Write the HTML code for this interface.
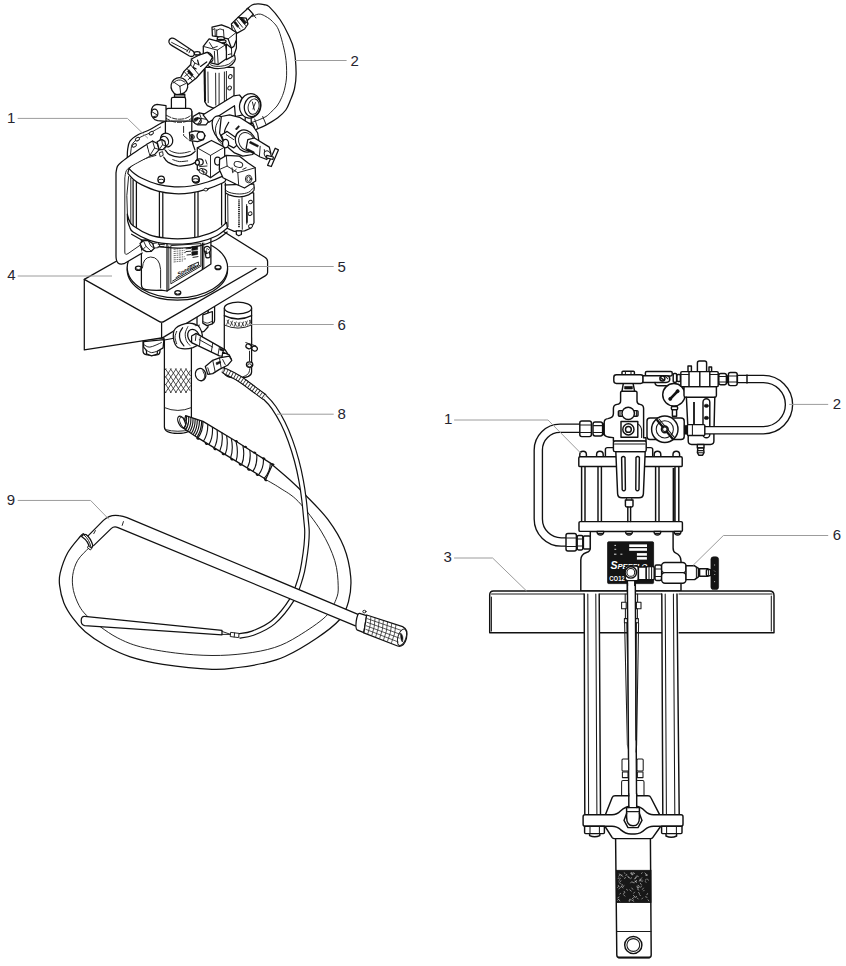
<!DOCTYPE html>
<html lang="en">
<head>
<meta charset="utf-8">
<title>Parts diagram</title>
<style>
html,body{margin:0;padding:0;background:#fff;}
body{width:846px;height:966px;overflow:hidden;font-family:"Liberation Sans",sans-serif;}
svg{display:block;}
svg text{font-family:"Liberation Sans",sans-serif;font-size:15px;fill:#25252f;stroke:none;}
.m{fill:none;stroke:#111;stroke-width:1.45;stroke-linecap:round;stroke-linejoin:round;}
.t{fill:none;stroke:#1a1a1a;stroke-width:1.05;stroke-linecap:round;stroke-linejoin:round;}
.w{fill:#fff;stroke:#111;stroke-width:1.45;stroke-linecap:round;stroke-linejoin:round;}
.wt{fill:#fff;stroke:#1a1a1a;stroke-width:1.05;stroke-linecap:round;stroke-linejoin:round;}
.k{fill:#111;stroke:#111;stroke-width:0.6;stroke-linejoin:round;}
.ld{fill:none;stroke:#9c9c9c;stroke-width:1;}
.wf{fill:#fff;stroke:none;}
.L .m,.L .w{stroke-width:1.25;}
.L .t,.L .wt{stroke-width:0.95;}
</style>
</head>
<body>
<svg width="846" height="966" viewBox="0 0 846 966">
<rect x="0" y="0" width="846" height="966" fill="#ffffff"/>
<g class="L">
<!-- LEFT FIGURE : mounting plate, lower pump tube, canister -->
<g id="left-plate">
<!-- lower pump tube (behind plate) -->
<path class="w" d="M164.4 340 V427 Q164.6 433.4 177.8 433.4 Q191.2 433.4 191.4 427 V335 Z"/>
<path class="t" d="M164.4 407.6 Q177.8 413.4 191.4 407.6"/>
<path class="t" d="M165.4 429.6 Q177.8 433 190.4 429.6"/>
<!-- pump outlet housing under plate -->
<path class="w" d="M143 340 V351 Q143 354 146 354.6 Q152 356 158 354.6 Q160 354 160 351 V345 H164 V338 Z"/>
<path class="t" d="M146 350.6 Q151.5 352.6 157 350.6"/>
<path class="w" d="M208 300 V321 Q208 323.6 211 323.6 Q214.6 323.6 214.6 320 V300 Z"/>
<path class="w" d="M197 312 V330 Q200 333 204 331.4 L208 327 V310 Z"/>
<!-- plate top face -->
<path class="w" d="M84.3 279.4 L197.6 215.2 L264.5 257 Q267.6 258.9 267.6 261.5 V272.6 Q267.6 274.4 265.6 275.6 L164.5 336.6 Q161.6 338.2 161.6 337.8 L84.3 349.8 Z"/>
<path class="m" d="M84.3 279.4 L159 321.4 Q161.6 322.9 164.2 321.4 L256 268.4"/>
<path class="m" d="M161.6 323 V337.6"/>
</g>

</g>
<g class="L">
<!-- LEFT FIGURE : hoses and suction tube -->
<g id="left-hoses">
<path class="wf" d="M272.0 464.5C275.0 467.1 284.5 475.0 290.0 480.0C295.5 485.0 298.9 488.1 305.2 494.7C311.5 501.3 321.6 511.0 328.0 519.7C334.4 528.4 340.1 537.5 343.9 547.0C347.7 556.5 349.9 567.6 350.7 576.7C351.5 585.8 350.4 594.5 348.5 601.7C346.6 608.9 344.6 613.9 339.3 620.0C334.0 626.1 325.7 632.1 316.6 638.2C307.6 644.3 294.1 652.3 285.0 656.5C275.9 660.7 269.8 661.7 262.0 663.5C254.2 665.3 246.3 666.5 238.0 667.5C229.7 668.5 224.5 669.8 212.0 669.3C199.5 668.8 176.5 666.4 162.9 664.3C149.3 662.2 139.9 659.9 130.3 656.8C120.7 653.7 112.8 649.7 105.3 645.5C97.8 641.3 90.6 636.3 85.2 631.7C79.8 627.1 76.2 622.7 72.7 617.9C69.2 613.1 66.1 608.3 63.9 602.9C61.7 597.5 60.2 590.4 59.6 585.4C59.0 580.4 58.9 578.2 60.2 572.8C61.6 567.4 64.4 558.8 67.7 552.8C71.0 546.8 77.6 539.7 80.2 536.5C82.8 533.3 82.9 534.1 83.4 533.6L92.4 544.6C91.8 545.1 91.5 545.2 89.0 547.8C86.5 550.4 80.4 555.7 77.7 560.3C75.0 564.9 73.4 570.3 72.7 575.3C72.0 580.3 72.4 585.4 73.4 590.4C74.5 595.4 76.8 601.2 79.0 605.4C81.2 609.6 83.0 611.8 86.5 615.4C90.0 619.0 95.1 622.9 100.3 626.7C105.5 630.5 111.1 634.6 117.8 638.0C124.5 641.4 130.8 644.3 140.4 646.8C150.0 649.3 163.5 651.5 175.4 653.0C187.3 654.5 200.4 655.4 212.0 655.5C223.6 655.6 234.6 654.8 245.0 653.5C255.4 652.2 265.7 650.4 274.6 647.5C283.5 644.6 289.8 641.2 298.3 636.0C306.8 630.8 319.4 622.6 325.7 616.5C332.0 610.4 333.9 604.6 336.0 599.5C338.1 594.4 338.4 592.3 338.2 585.8C338.0 579.3 337.6 569.8 334.8 560.7C332.0 551.6 327.2 541.0 321.1 531.1C315.0 521.2 305.2 508.7 298.3 501.5C291.4 494.3 285.7 491.8 280.0 488.0C274.3 484.2 266.7 480.2 264.0 478.6Z"/>
<path class="m" d="M272.0 464.5C275.0 467.1 284.5 475.0 290.0 480.0C295.5 485.0 298.9 488.1 305.2 494.7C311.5 501.3 321.6 511.0 328.0 519.7C334.4 528.4 340.1 537.5 343.9 547.0C347.7 556.5 349.9 567.6 350.7 576.7C351.5 585.8 350.4 594.5 348.5 601.7C346.6 608.9 344.6 613.9 339.3 620.0C334.0 626.1 325.7 632.1 316.6 638.2C307.6 644.3 294.1 652.3 285.0 656.5C275.9 660.7 269.8 661.7 262.0 663.5C254.2 665.3 246.3 666.5 238.0 667.5C229.7 668.5 224.5 669.8 212.0 669.3C199.5 668.8 176.5 666.4 162.9 664.3C149.3 662.2 139.9 659.9 130.3 656.8C120.7 653.7 112.8 649.7 105.3 645.5C97.8 641.3 90.6 636.3 85.2 631.7C79.8 627.1 76.2 622.7 72.7 617.9C69.2 613.1 66.1 608.3 63.9 602.9C61.7 597.5 60.2 590.4 59.6 585.4C59.0 580.4 58.9 578.2 60.2 572.8C61.6 567.4 64.4 558.8 67.7 552.8C71.0 546.8 77.6 539.7 80.2 536.5C82.8 533.3 82.9 534.1 83.4 533.6"/>
<path class="t" d="M264.0 478.6C266.7 480.2 274.3 484.2 280.0 488.0C285.7 491.8 291.4 494.3 298.3 501.5C305.2 508.7 315.0 521.2 321.1 531.1C327.2 541.0 332.0 551.6 334.8 560.7C337.6 569.8 338.0 579.3 338.2 585.8C338.4 592.3 338.1 594.4 336.0 599.5C333.9 604.6 332.0 610.4 325.7 616.5C319.4 622.6 306.8 630.8 298.3 636.0C289.8 641.2 283.5 644.6 274.6 647.5C265.7 650.4 255.4 652.2 245.0 653.5C234.6 654.8 223.6 655.6 212.0 655.5C200.4 655.4 187.3 654.5 175.4 653.0C163.5 651.5 150.0 649.3 140.4 646.8C130.8 644.3 124.5 641.4 117.8 638.0C111.1 634.6 105.5 630.5 100.3 626.7C95.1 622.9 90.0 619.0 86.5 615.4C83.0 611.8 81.2 609.6 79.0 605.4C76.8 601.2 74.5 595.4 73.4 590.4C72.4 585.4 72.0 580.3 72.7 575.3C73.4 570.3 75.0 564.9 77.7 560.3C80.4 555.7 86.5 550.4 89.0 547.8C91.5 545.2 91.8 545.1 92.4 544.6"/>
<path class="w" d="M84.6 616.4 L222 630.4 L222 634.8 L84.6 625.6 Q81.2 625 81.2 620.8 Q81.2 616.2 84.6 616.4 Z"/>
<path d="M222.7 369.7C225.2 371.0 233.1 374.9 237.7 377.7C242.3 380.5 245.7 383.1 250.3 386.5C254.9 389.9 261.4 394.2 265.3 397.8C269.2 401.4 271.1 403.6 274.0 407.8C276.9 412.0 280.1 417.4 282.8 422.8C285.5 428.2 288.0 434.1 290.3 440.4C292.6 446.7 294.8 453.7 296.6 460.4C298.4 467.1 299.9 473.8 301.1 480.5C302.4 487.2 303.3 493.8 304.1 500.5C304.9 507.2 305.6 515.4 306.1 520.6C306.6 525.9 307.0 527.9 307.0 532.0C307.0 536.1 306.8 540.0 306.3 545.0C305.8 550.0 304.9 556.5 304.0 562.0C303.1 567.5 302.6 571.5 300.6 577.8C298.6 584.0 296.6 592.1 292.0 599.5C287.4 606.9 279.8 616.6 273.3 622.2C266.8 627.8 258.5 630.9 252.8 633.2C247.1 635.5 241.4 635.5 239.1 635.9" fill="none" stroke="#111" stroke-width="5.7"/>
<path d="M222.7 369.7C225.2 371.0 233.1 374.9 237.7 377.7C242.3 380.5 245.7 383.1 250.3 386.5C254.9 389.9 261.4 394.2 265.3 397.8C269.2 401.4 271.1 403.6 274.0 407.8C276.9 412.0 280.1 417.4 282.8 422.8C285.5 428.2 288.0 434.1 290.3 440.4C292.6 446.7 294.8 453.7 296.6 460.4C298.4 467.1 299.9 473.8 301.1 480.5C302.4 487.2 303.3 493.8 304.1 500.5C304.9 507.2 305.6 515.4 306.1 520.6C306.6 525.9 307.0 527.9 307.0 532.0C307.0 536.1 306.8 540.0 306.3 545.0C305.8 550.0 304.9 556.5 304.0 562.0C303.1 567.5 302.6 571.5 300.6 577.8C298.6 584.0 296.6 592.1 292.0 599.5C287.4 606.9 279.8 616.6 273.3 622.2C266.8 627.8 258.5 630.9 252.8 633.2C247.1 635.5 241.4 635.5 239.1 635.9" fill="none" stroke="#fff" stroke-width="3.3"/>
<path class="wt" d="M231 632.4 L239 633.4 L238.6 637.6 L230.6 636.6 Z"/>
<path class="t" d="M234.6 633 L234.2 637 M222 631.4 L230.6 634.4 L222 634.4"/>
<path class="wf" d="M83.6 535 L103 521 Q110 514 119 515.6 Q123 516.2 127 517.6 L358.6 614.6 L355.4 625.8 L118 527.6 Q114 526 111.4 528.4 L92.6 546.6 Z"/>
<path class="m" d="M85.6 538.4 L103.4 520.4 Q110 514 119 515.6 Q123 516.2 127 517.6 L358.6 614.6"/>
<path class="m" d="M355.4 625.8 L118 527.6 Q114 526 111.4 528.4 L93.6 545.6"/>
<path class="t" d="M123.4 521.6 L122.2 525.4 M95.4 530.6 L93.8 533.6"/>
<path class="w" d="M81.6 536.6 Q83 533.4 86 534.6 Q90.6 538 92.8 545.4 Q92.4 548.4 89.6 548.8 Q89 541.6 81.6 536.6 Z"/>
<path class="t" d="M84 535 Q89.6 539.6 91 547.4"/>
<path class="wt" d="M88.6 546 L91.6 548.6 L90.4 550 L87.8 548 Z"/>
<path class="w" d="M359.6 613.4 L366.6 615.6 L363.8 632.6 L357 629.8 Q355.4 628.6 356.2 621.4 Q357.4 613 359.6 613.4 Z"/>
<ellipse class="wt" cx="364.4" cy="611.6" rx="1.6" ry="1.3"/>
<path class="w" d="M366.7 615 L402.6 626.6 Q408.6 629.4 406.4 638.6 Q403.8 647.6 397.6 646 L363.8 632.8 Z"/>
<ellipse class="t" cx="402" cy="637.2" rx="4" ry="8.6" transform="rotate(18 402 637.2)"/>
<path class="k" d="M400.6 633 Q404 636 402.4 642 Q400.4 640 400.6 633 Z"/>
<path d="M370.9 616.4Q370.9 625.7 367.7 634.2M375.1 617.7Q375.0 627.1 371.7 635.7M379.3 619.1Q379.0 628.5 375.6 637.1M383.5 620.4Q383.1 629.9 379.6 638.6M387.6 621.8Q387.2 631.3 383.5 640.0M391.8 623.1Q391.2 632.7 387.4 641.5M396.0 624.5Q395.3 634.1 391.4 642.9M367.1 618.6L401.6 630.5M366.5 622.1L400.6 634.4M366.0 625.7L399.6 638.2M365.4 629.2L398.6 642.1" fill="none" stroke="#222" stroke-width="0.75"/>
</g>
</g>
<g class="L">
<!-- LEFT FIGURE : items under the plate: canister, valves, pump tube texture, hose guards -->
<g id="left-under">
<path d="M165.2 391.5L166.2 393.0M165.2 370.0L166.2 368.5M165.3 383.9L171.3 393.0M165.3 377.6L171.3 368.5M165.4 376.4L176.4 393.0M165.4 385.1L176.4 368.5M165.2 368.5L181.4 393.0M165.2 393.0L181.4 368.5M170.3 368.5L186.5 393.0M170.3 393.0L186.5 368.5M175.4 368.5L190.4 391.1M175.4 393.0L190.4 370.4M180.4 368.5L190.4 383.6M180.4 393.0L190.4 377.9M185.5 368.5L190.5 376.0M185.5 393.0L190.5 385.5" fill="none" stroke="#222" stroke-width="0.8"/>
<path class="w" d="M173.4 333.4C173.6 331.2 174.2 329.8 175.5 328.4C176.8 327.0 179.0 325.6 181.3 324.8C183.6 323.9 186.8 323.0 189.6 323.1C192.3 323.2 195.9 324.2 197.8 325.6C199.8 327.0 200.8 329.3 201.5 331.4C202.2 333.4 202.5 335.9 202.1 338.0C201.8 340.1 201.0 342.2 199.5 343.8C198.0 345.4 195.4 346.7 192.9 347.6C190.4 348.4 187.2 349.0 184.6 348.9C182.0 348.8 178.9 348.4 177.2 347.1C175.4 345.8 174.7 343.6 174.0 341.3C173.4 339.0 173.1 335.5 173.4 333.4Z"/>
<path class="m" d="M182.6 327.7C182.1 328.7 180.0 331.2 179.6 333.4C179.3 335.5 179.6 338.4 180.3 340.5C181.0 342.6 183.3 345.0 183.9 345.9"/>
<path class="t" d="M187.9 326.7C187.5 327.8 185.5 330.7 185.3 333.0C185.0 335.3 185.5 338.4 186.3 340.5C187.0 342.5 189.3 344.5 189.9 345.3"/>
<path class="t" d="M176.7 331.4C176.4 332.3 175.0 335.1 175.0 337.2C175.0 339.2 176.4 342.7 176.7 343.8"/>
<ellipse class="w" cx="193.6" cy="336.4" rx="5.6" ry="7.4" transform="rotate(-25 193.6 336.4)"/>
<path class="t" d="M192.9 323.1C193.3 323.5 194.3 325.2 195.4 325.6C196.5 325.9 198.8 325.2 199.5 325.1"/>
<path class="w" d="M202.8 314.8 L202.8 323.1 L206.9 325.6 L212.4 323.9 L212.4 311.5Z"/>
<path class="t" d="M202.8 321.4C203.6 321.7 205.8 323.2 207.4 323.1C209.0 323.0 211.6 321.4 212.4 321.1"/>
<path class="w" d="M143.6 341.6 L143.6 347.1 L146.5 350.4 L146.5 353.7 L151.5 355.9 L157.3 354.2 L157.3 351.2 L163.1 347.9 L163.9 339.6Z"/>
<path class="t" d="M146.5 350.4C147.4 350.8 149.7 352.4 151.5 352.6C153.3 352.7 156.3 351.4 157.3 351.2"/>
<path class="t" d="M143.9 344.6C144.9 345.0 146.9 347.4 149.9 347.1C152.8 346.8 159.5 343.4 161.4 342.6"/>
<path class="w" d="M224.3 308 V372 Q224.3 378 238 378 Q251.6 378 251.6 372 V308 Z"/>
<ellipse class="w" cx="238" cy="308" rx="13.6" ry="5.8"/>
<path class="m" d="M224.3 315.6 Q238 322.4 251.6 315.6"/>
<path class="t" d="M224.3 325 Q238 331.4 251.6 325"/>
<path d="M226.6 324.7L229.0 319.3M227.0 319.9L229.2 324.3M230.3 326.0L232.7 320.6M230.7 321.2L232.9 325.6M234.0 326.9L236.4 321.5M234.4 322.1L236.6 326.5M237.7 327.2L240.1 321.8M238.1 322.4L240.3 326.8M241.4 326.9L243.8 321.5M241.8 322.1L244.0 326.5M245.1 326.0L247.5 320.6M245.5 321.2L247.7 325.6M248.8 324.7L251.2 319.3M249.2 319.9L251.4 324.3" fill="none" stroke="#222" stroke-width="0.8"/>
<ellipse class="w" cx="248.6" cy="346.4" rx="2.8" ry="2.2" transform="rotate(25 248.6 346.4)"/>
<ellipse class="w" cx="254.6" cy="348.6" rx="2.8" ry="2.4" transform="rotate(25 254.6 348.6)"/>
<path class="t" d="M245.8 342.6 L255.8 345.9M251.6 338.0 L251.6 343.0M249.5 351.2 L249.5 361.2"/>
<ellipse class="w" cx="249.6" cy="364.6" rx="3.2" ry="2.8"/>
<ellipse class="t" cx="249.6" cy="365.4" rx="2" ry="1.6"/>
<path class="t" d="M250.0 367.8C249.7 368.7 249.6 372.1 248.3 373.6C247.1 375.1 244.3 376.5 242.5 376.9C240.7 377.3 238.4 376.2 237.6 376.0"/>
<path class="w" d="M191.6 336.0 L196.2 333.4 L225.2 349.9 L227.6 353.7 L224.3 356.2 L219.4 355.9 L191.6 342.6Z"/>
<path class="t" d="M196.2 333.4 L195.4 340.5M200.3 337.2 L199.5 345.4M212.7 343.0 L211.4 351.6M219.4 347.1 L218.0 354.9M199.2 339.6 L212.7 347.1"/>
<path class="k" d="M220.2 348.2 L224.3 349.9 L223.7 351.6 L219.7 349.9Z"/>
<path class="w" d="M222.7 352.1 L229.3 354.9 L231.3 359.2 L227.6 361.5 L221.8 359.2Z"/>
<path class="w" d="M205.3 366.5 L212.7 360.3 L219.4 357.8 L229.3 356.2 L231.8 360.3 L227.6 365.3 L219.4 369.4 L212.7 373.6 L207.8 374.4Z"/>
<path class="t" d="M212.7 360.3 L215.2 371.9M219.4 357.8 L221.3 368.6M207.8 367.8 L209.8 374.1M222.7 359.5 L225.2 364.5"/>
<path class="k" d="M216.0 362.8 L220.2 361.2 L220.7 362.8 L216.7 364.8Z"/>
<ellipse class="w" cx="200.6" cy="374.6" rx="5.2" ry="6.2" transform="rotate(-15 200.6 374.6)"/>
<path class="t" d="M202.8 370.8C203.1 371.6 204.8 374.5 204.8 376.0C204.8 377.6 203.1 379.5 202.8 380.2"/>
<path d="M224.0 370.6C226.3 371.8 233.3 375.1 237.7 377.7C242.1 380.3 245.8 383.2 250.3 386.5C254.8 389.8 262.2 395.4 264.6 397.2" fill="none" stroke="#111" stroke-width="6.6"/>
<path d="M224.0 370.6C226.3 371.8 233.3 375.1 237.7 377.7C242.1 380.3 245.8 383.2 250.3 386.5C254.8 389.8 262.2 395.4 264.6 397.2" fill="none" stroke="#fff" stroke-width="4.4"/>
<path d="M224.0 370.6C226.3 371.8 233.3 375.1 237.7 377.7C242.1 380.3 245.8 383.2 250.3 386.5C254.8 389.8 262.2 395.4 264.6 397.2" fill="none" stroke="#222" stroke-width="5.6" stroke-dasharray="0.8 2.1"/>
<path class="w" d="M185.6 415.6 L203.0 421.4 L236.0 441.2 L272.5 464.4 L265.8 479.3 L236.0 461.1 L198.0 437.9 L183.1 428.0Z"/>
<ellipse class="w" cx="181.6" cy="422" rx="3.2" ry="6.2" transform="rotate(-25 181.6 422)"/>
<ellipse class="t" cx="183.4" cy="422.8" rx="3" ry="6" transform="rotate(-25 183.4 422.8)"/>
<path d="M186.4 415.9Q187.3 423.4 183.8 428.5M188.6 416.6Q189.4 424.4 185.7 429.7M190.8 417.3Q191.4 425.3 187.6 431.0M193.0 418.0Q193.4 426.3 189.4 432.2M195.1 418.8Q195.4 427.3 191.3 433.5M197.3 419.5Q197.4 428.3 193.1 434.7M199.5 420.2Q199.4 429.3 195.0 435.9M201.7 420.9Q201.5 430.3 196.9 437.2M203.0 421.4Q203.1 431.0 198.0 437.9M207.7 424.2Q208.2 434.1 203.4 441.2M212.4 427.0Q213.2 437.2 208.9 444.5M217.1 429.9Q218.3 440.3 214.3 447.8M221.9 432.7Q223.4 443.3 219.7 451.2M226.6 435.6Q228.5 446.4 225.2 454.5M231.3 438.4Q233.6 449.5 230.6 457.8M236.0 441.2Q238.8 452.8 236.0 461.1M242.9 445.6Q245.1 456.7 241.7 464.5M249.8 450.0Q251.3 460.6 247.3 468.0M256.7 454.3Q257.6 464.5 252.9 471.4M263.5 458.7Q263.8 468.4 258.5 474.8M270.4 463.1Q270.1 472.3 264.2 478.3" fill="none" stroke="#151515" stroke-width="1.15"/>
<path d="M196.8 437.5q0.4 2.2 2.4 1.4M205.3 442.7q0.4 2.2 2.4 1.4M213.8 447.9q0.4 2.2 2.4 1.4M222.2 453.0q0.4 2.2 2.4 1.4M230.7 458.2q0.4 2.2 2.4 1.4M239.2 463.4q0.4 2.2 2.4 1.4M247.7 468.5q0.4 2.2 2.4 1.4M256.2 473.7q0.4 2.2 2.4 1.4M264.6 478.9q0.4 2.2 2.4 1.4M235.0 441.6q1.4 -2 2.6 0.2M244.2 447.4q1.4 -2 2.6 0.2M253.3 453.2q1.4 -2 2.6 0.2M262.4 459.0q1.4 -2 2.6 0.2M271.5 464.8q1.4 -2 2.6 0.2" fill="none" stroke="#111" stroke-width="1.4"/>
<path class="w" d="M222.5 189.0 L223.2 222.8 L226.4 228.0 L234.2 231.3 L244.6 230.9 L251.1 228.0 L254.0 222.8 L253.7 192.9Z"/>
<path class="w" d="M236.2 230.9 L236.4 234.5 L238.8 235.8 L241.4 234.5 L241.4 230.9Z"/>
<path class="w" d="M221.9 185.1C222.0 186.0 221.3 188.7 222.5 190.3C223.7 191.9 226.2 193.8 229.0 194.9C231.8 195.9 236.2 196.8 239.4 196.8C242.7 196.8 246.1 195.9 248.5 194.9C250.9 193.8 253.1 192.2 254.0 190.3C254.8 188.5 253.8 184.9 253.7 183.8Z"/>
<path class="t" d="M222.8 187.7C223.8 188.5 226.2 191.2 229.0 192.3C231.8 193.3 236.2 194.0 239.4 194.0C242.7 194.0 246.2 193.3 248.5 192.3C250.9 191.2 252.6 188.5 253.5 187.7"/>
<path d="M239.0 199.4 L239.0 228.0" stroke="#222" stroke-width="1.8" stroke-dasharray="1.2 0.7" fill="none"/>
<path class="t" d="M242.0 197.5 L242.3 229.3M246.6 204.6 L246.8 224.1M227.7 195.5 L228.0 226.7M224.9 192.9 L225.1 224.8"/>
<path d="M246.8 205.9 L247.0 222.8" stroke="#111" stroke-width="1.6" fill="none"/>
<ellipse class="wt" cx="250.5" cy="202.0" rx="2" ry="1.7" transform="rotate(-25 250.5 202.0)"/>
<ellipse class="wt" cx="250.1" cy="213.7" rx="2" ry="1.7" transform="rotate(-25 250.1 213.7)"/>
<ellipse class="wt" cx="250.5" cy="226.1" rx="2" ry="1.7" transform="rotate(-25 250.5 226.1)"/>
</g>
</g>
<g class="L">
<!-- LEFT FIGURE : base flange, pump housing, air motor cylinder -->
<g id="left-motor">
<ellipse class="w" cx="177.4" cy="269.6" rx="50.2" ry="30.6"/>
<ellipse class="w" cx="177.4" cy="267.6" rx="50.2" ry="30.2"/>
<ellipse class="w" cx="138.4" cy="268.2" rx="3" ry="2.2"/>
<path class="t" d="M135.8 268.8 Q138.4 270.8 141.0 268.8"/>
<ellipse class="w" cx="218" cy="267.5" rx="3" ry="2.2"/>
<path class="t" d="M215.4 268.1 Q218 270.1 220.6 268.1"/>
<ellipse class="w" cx="177.8" cy="292.7" rx="3" ry="2.2"/>
<path class="t" d="M175.20000000000002 293.3 Q177.8 295.3 180.4 293.3"/>
<path class="w" d="M141.4 240 V284.4 Q141.4 289 146.3 289.6 Q153 290.6 161.2 290.2 L167 291 L202.6 269.5 L210.9 264 V236 Z"/>
<path class="t" d="M142.4 268 Q143 257.4 150.6 257 Q159.6 257 160.6 269.5 V288"/>
<path class="m" d="M167 244 V291"/>
<path class="t" d="M168.8 246 V289.6"/>
<path class="m" d="M202.4 243 V269.4"/>
<path class="t" d="M203.8 243 V268.4"/>
<path class="t" d="M171.2 245.6 L200.9 243.6 V266.2 L171.2 283.6 Z"/>
<path class="t" d="M172.6 281 L199.6 265.4"/>
<path d="M173.6 249.4 L183.0 248.3M173.6 251.5 L184.6 250.4M173.6 253.6 L186.2 252.5M173.6 255.7 L183.0 254.6M173.6 257.8 L184.6 256.7M173.6 259.9 L186.2 258.8M173.6 262.0 L183.0 260.9" fill="none" stroke="#333" stroke-width="0.7" stroke-dasharray="2.2 0.8 1.4 0.7"/>
<path class="k" d="M191.8 246.6 L197.6 246 V249.6 L191.8 250.4 Z M191.8 251.8 L197.6 251 V254.4 L191.8 255.4 Z"/>
<path class="t" d="M186 248.8 L190.6 248.4 M186 251.6 L190.6 251.2 M187 255 L190.6 254.6 M193 257.4 L198 256.6"/>
<text x="0" y="0" transform="translate(178.2 276.4) rotate(-28) skewX(-10)" style="font-size:5.6px;font-weight:bold;font-style:italic;fill:#111;stroke:none">Speeflo</text>
<path class="t" d="M176 277.6 L178.4 276.2 M188 266.8 L198.4 262 L198.4 265 L190 269.4"/>
<path class="w" d="M204.6 247.4 Q207.4 245.4 209.6 247.6 Q211.6 250 209.4 252 L210.2 256.6 Q208.6 258.6 206 257.4 L205 252.6 Q203.4 249.6 204.6 247.4 Z"/>
<path class="t" d="M206.4 249 Q207.6 248 208.6 249.4 M206.4 253.6 L209 252.6"/>
<path class="k" d="M205.2 251.2 L206.4 250.6 L207 253.6 L205.8 254 Z"/>
<path class="wf" d="M127.6 176 L127.3 214 Q130 228 150 236 Q177 242 200 238 Q222 232 226.6 221.5 L224.4 182 Q200 196 175 194 Q150 192 127.6 176 Z"/>
<path class="t" d="M128.6 176.5 Q125.6 196 127.4 214"/>
<path class="t" d="M130.8 178 V226"/>
<path class="m" d="M133.1 180 V229 M136.4 180.4 V229.3"/>
<path class="m" d="M159.4 190.6 V237.6 M162.8 191.0 V237.9"/>
<path class="m" d="M194.8 191 V237.2 M198 191.4 V237.5"/>
<path class="m" d="M221.6 182.6 V225 M225.4 183.0 V225.3"/>
<path class="w" d="M127.3 214.2C127.7 215.3 128.4 218.7 129.4 220.6C130.4 222.5 129.7 223.4 133.1 225.8C136.5 228.2 144.1 232.8 149.6 234.9C155.1 237.0 160.7 237.6 166.2 238.2C171.7 238.8 177.2 239.0 182.7 238.7C188.2 238.4 193.8 237.9 199.3 236.6C204.8 235.3 211.2 233.2 215.8 230.8C220.4 228.5 224.8 223.9 226.6 222.5L227.4 227.9C225.5 229.3 220.5 233.9 215.8 236.2C211.1 238.5 204.8 240.6 199.3 241.9C193.8 243.2 188.2 243.8 182.7 244.1C177.2 244.4 171.7 244.2 166.2 243.6C160.7 243.0 155.1 242.2 149.6 240.3C144.1 238.4 136.4 234.2 133.1 232.0C129.8 229.8 130.5 228.7 129.6 226.8C128.7 224.9 127.9 221.8 127.6 220.8Z"/>
<path class="m" d="M131.6 234.2C134.6 235.8 143.8 241.6 149.6 243.8C155.4 246.0 160.7 246.7 166.2 247.4C171.7 248.1 177.2 248.3 182.7 248.0C188.2 247.7 193.8 247.1 199.3 245.8C204.8 244.5 211.2 242.3 215.8 240.0C220.5 237.7 225.3 233.3 227.2 232.0"/>
</g>
</g>
<g class="L">
<!-- LEFT FIGURE : tube, top cap, column, valve, lubricator, regulator, hose -->
<g id="left-top">
<path class="wf" d="M246.8 9.1C247.7 8.4 250.2 5.9 252.0 5.0C253.8 4.1 255.8 3.9 257.8 3.8C259.8 3.7 262.1 4.1 264.0 4.6C265.9 5.1 266.4 4.0 269.1 6.6C271.8 9.2 277.1 15.3 280.3 20.0C283.5 24.7 286.2 30.0 288.5 35.0C290.8 40.0 292.8 43.8 294.1 50.1C295.4 56.4 296.0 66.4 296.1 72.7C296.2 79.0 295.6 83.4 294.6 88.0C293.7 92.6 291.9 96.6 290.4 100.3C288.9 104.0 287.9 107.1 285.8 110.0C283.7 112.9 280.6 115.6 277.8 117.8C275.1 120.0 271.8 121.6 269.3 123.1C266.8 124.6 265.4 125.4 262.8 126.6C260.2 127.8 255.5 129.7 254.0 130.3L250.3 122.8C251.6 122.4 255.2 121.3 257.8 120.3C260.4 119.2 263.9 117.8 266.0 116.5C268.1 115.2 268.5 114.5 270.3 112.8C272.1 111.0 275.1 108.5 277.0 106.0C278.9 103.5 280.3 100.7 281.6 97.7C282.9 94.7 284.0 91.8 284.8 88.0C285.6 84.2 286.5 80.7 286.6 75.2C286.7 69.7 286.6 62.5 285.3 55.1C284.0 47.7 281.1 36.6 279.0 31.0C276.9 25.4 274.7 23.9 272.5 21.5C270.3 19.1 268.0 17.8 266.0 16.6C264.0 15.4 262.2 14.5 260.6 14.2C259.0 13.9 257.8 14.2 256.5 14.6C255.2 15.0 253.2 16.2 252.6 16.5Z"/>
<path class="m" d="M246.8 9.1C247.7 8.4 250.2 5.9 252.0 5.0C253.8 4.1 255.8 3.9 257.8 3.8C259.8 3.7 262.1 4.1 264.0 4.6C265.9 5.1 266.4 4.0 269.1 6.6C271.8 9.2 277.1 15.3 280.3 20.0C283.5 24.7 286.2 30.0 288.5 35.0C290.8 40.0 292.8 43.8 294.1 50.1C295.4 56.4 296.0 66.4 296.1 72.7C296.2 79.0 295.6 83.4 294.6 88.0C293.7 92.6 291.9 96.6 290.4 100.3C288.9 104.0 287.9 107.1 285.8 110.0C283.7 112.9 280.6 115.6 277.8 117.8C275.1 120.0 271.8 121.6 269.3 123.1C266.8 124.6 265.4 125.4 262.8 126.6C260.2 127.8 255.5 129.7 254.0 130.3"/>
<path class="t" d="M252.6 16.5C253.2 16.2 255.2 15.0 256.5 14.6C257.8 14.2 259.0 13.9 260.6 14.2C262.2 14.5 264.0 15.4 266.0 16.6C268.0 17.8 270.3 19.1 272.5 21.5C274.7 23.9 276.9 25.4 279.0 31.0C281.1 36.6 284.0 47.7 285.3 55.1C286.6 62.5 286.7 69.7 286.6 75.2C286.5 80.7 285.6 84.2 284.8 88.0C284.0 91.8 282.9 94.7 281.6 97.7C280.3 100.7 278.9 103.5 277.0 106.0C275.1 108.5 272.1 111.0 270.3 112.8C268.5 114.5 268.1 115.2 266.0 116.5C263.9 117.8 260.4 119.2 257.8 120.3C255.2 121.3 251.6 122.4 250.3 122.8"/>
<path class="t" d="M249.3 10.3 L255.9 17.9"/>
<path class="t" d="M254.7 119.1 L257.7 127.7"/>
<path class="t" d="M262.7 116.5 L266.0 124.4"/>
<path class="w" d="M127.3 160.0C127.3 158.3 127.2 153.1 127.6 150.0C128.0 146.9 128.1 143.9 129.8 141.4C131.5 138.9 134.7 136.7 138.0 134.8C141.3 132.9 146.0 131.6 149.6 129.8C153.2 128.0 156.9 125.5 159.6 124.0C162.3 122.5 164.9 121.5 166.0 121.0L190 150 L129 168.7 Z"/>
<path class="t" d="M130.2 158.0C130.3 156.7 130.6 152.4 131.0 150.0C131.4 147.6 131.2 145.7 132.6 143.6C134.0 141.5 136.6 139.4 139.6 137.6C142.6 135.8 147.1 134.4 150.6 132.6C154.1 130.8 158.9 127.9 160.6 127.0"/>
<ellipse class="wt" cx="134.3" cy="145.4" rx="2.3" ry="1.5" transform="rotate(-30 134.3 145.4)"/>
<ellipse class="wt" cx="151.3" cy="133.2" rx="2.3" ry="1.5" transform="rotate(-30 151.3 133.2)"/>
<ellipse class="wt" cx="137.4" cy="139.2" rx="2.3" ry="1.5" transform="rotate(-30 137.4 139.2)"/>
<path class="wf" d="M129 168.7 Q150 150 166 146 H196 Q215 160 225 175.4 Q200 188 175 188.5 Q150 186 129 168.7 Z"/>
<path class="t" d="M129.0 168.7C130.2 167.8 133.2 164.7 136.0 163.0C138.8 161.3 142.7 159.7 146.0 158.4C149.3 157.1 154.3 155.9 156.0 155.4"/>
<path class="w" d="M129.0 168.4C129.8 169.2 131.5 171.4 133.6 173.0C135.7 174.6 137.3 176.1 141.4 178.0C145.5 179.9 152.4 182.9 157.9 184.4C163.4 185.9 169.0 186.5 174.5 186.8C180.0 187.1 185.5 186.8 191.0 186.0C196.5 185.2 202.5 183.6 207.6 182.0C212.7 180.4 218.7 177.9 221.6 176.6C224.5 175.3 224.4 174.8 225.0 174.4L225.6 180.6C225.1 181.0 225.5 181.6 222.5 183.0C219.5 184.4 212.8 187.2 207.6 188.8C202.3 190.5 196.5 192.1 191.0 192.9C185.5 193.7 180.0 194.0 174.5 193.7C169.0 193.4 163.4 192.7 157.9 191.2C152.4 189.7 145.6 186.6 141.4 184.6C137.2 182.6 135.3 180.9 133.0 179.0C130.7 177.1 128.7 174.3 127.8 173.4Z"/>
<path class="m" d="M164.9 149.6C165.6 150.5 167.1 153.4 169.5 154.6C171.9 155.8 176.1 157.0 179.4 157.1C182.7 157.2 186.7 156.4 189.4 155.4C192.0 154.5 194.2 152.0 195.2 151.3"/>
<path class="t" d="M166.2 147.2C167.0 147.9 169.0 150.3 171.2 151.3C173.4 152.3 176.4 153.2 179.4 153.3C182.5 153.3 186.9 152.5 189.4 151.6C191.8 150.8 193.2 148.9 194.0 148.3"/>
<path class="m" d="M163.7 157.1C164.4 157.9 165.5 160.6 167.8 162.1C170.2 163.5 174.2 165.4 177.8 165.9C181.4 166.3 186.2 165.6 189.4 164.9C192.5 164.2 195.6 162.1 196.8 161.6"/>
<path class="t" d="M172.8 159.6C173.9 159.9 176.9 161.3 179.4 161.6C181.9 161.8 186.3 161.0 187.7 160.9"/>
<ellipse class="w" cx="161.2" cy="179.6" rx="3.3" ry="3.6"/>
<ellipse class="t" cx="161.2" cy="181.0" rx="3.1" ry="1.8"/>
<ellipse class="w" cx="196" cy="179.6" rx="3.3" ry="3.6"/>
<ellipse class="t" cx="196" cy="181.0" rx="3.1" ry="1.8"/>
<ellipse class="wt" cx="205.9" cy="189.6" rx="2" ry="1.4"/>
<path class="wf" d="M165.4 111.3 L165.4 135.6 L167.0 141.4 L164.9 149.6 L195.2 151.3 L192.7 141.4 L191.8 138.1 L191.8 111.3Z"/>
<path class="m" d="M165.4 111.3 L165.4 135.6Q165.6 140 165 148M191.8 111.3 L191.8 138.1Q192.4 144 195 150"/>
<path class="w" d="M171.4 110 V99 Q171.4 97.4 173 97.4 H184 Q185.6 97.4 185.6 99 V110 Z"/>
<path class="w" d="M165.4 111.6 Q165.4 108.4 168.6 108.4 H188.6 Q191.8 108.4 191.8 111.6 V121 H165.4 Z"/>
<path class="t" d="M166.2 115.2C167.3 115.7 170.6 117.5 172.8 118.2C175.0 118.9 177.2 119.2 179.4 119.2C181.6 119.2 184.1 118.9 186.0 118.2C188.0 117.5 190.5 115.7 191.3 115.2" stroke-dasharray="5 1.5"/>
<path class="t" d="M166.2 118.5C167.3 119.0 170.6 120.9 172.8 121.5C175.0 122.2 177.2 122.5 179.4 122.5C181.6 122.5 184.1 122.2 186.0 121.5C188.0 120.9 190.5 119.0 191.3 118.5" stroke-dasharray="4 2"/>
<path class="w" d="M166 105.6 L157 104.4 Q151.4 105 151.4 112 Q151.6 119.6 157.6 120.6 L166 121.4 Z"/>
<ellipse class="w" cx="154.6" cy="113.4" rx="3.3" ry="4.2"/>
<path class="t" d="M152.4 112 L156.8 114.8 M153.6 116.6 L156.6 116"/>
<path class="w" d="M193.0 116.5 L199.3 112.9 L207.6 114.6 L209.9 119.9 L205.9 124.8 L197.6 124.8 L192.7 121.5Z"/>
<ellipse class="w" cx="197.6" cy="121" rx="3.6" ry="3.2"/>
<path class="k" d="M194.6 119.6 L197.6 117.6 L198.6 119 L195.6 121.6 Z"/>
<path class="t" d="M199.3 112.9 L201.3 118.5 L197.6 124.8M201.3 118.5 L209.9 119.9"/>
<path class="w" d="M189.4 132.4 L195.2 130.8 L202.6 131.8 L205.2 135.6 L203.4 139.7 L197.6 141.7 L190.2 140.7Z"/>
<ellipse class="w" cx="200.8" cy="135.8" rx="3.8" ry="4"/>
<ellipse class="wt" cx="192" cy="137" rx="2.2" ry="2.8"/>
<path class="k" d="M190.8 135.6 L192.6 135 L193 138.6 L191.2 139 Z"/>
<path class="t" d="M183.6 126.5 L183.6 135.6 L189.4 140.5" stroke-dasharray="6 2"/>
<ellipse class="w" cx="166.6" cy="140" rx="6" ry="7" transform="rotate(-25 166.6 140)"/>
<ellipse class="w" cx="164.4" cy="141.2" rx="4" ry="5" transform="rotate(-25 164.4 141.2)"/>
<path class="w" d="M146.7 144.3 L152.6 141.0 L157.1 143.4 L159.2 149.6 L154.6 154.6 L149.6 155.9Z"/>
<path class="t" d="M152.6 141.0 L154.6 148.0 L149.6 155.9M154.6 148.0 L159.2 149.6"/>
<path class="w" d="M157.1 141.7 L161.6 139.4 L164.9 141.4 L165.9 146.3 L162.9 149.6 L159.2 149.6Z"/>
<path class="t" d="M161.6 139.4 L162.6 144.7 L159.2 149.6M162.6 144.7 L165.9 146.3"/>
<path class="t" d="M159.6 152.6 L162.6 151.6 L163.2 155.3 L160.6 156.6Z"/>
<path class="wf" d="M146.3 144.7C144.1 146.2 137.1 150.7 133.0 153.6C128.9 156.5 124.1 160.0 121.5 162.1C118.9 164.2 118.3 164.6 117.4 166.4C116.5 168.2 116.2 171.7 116.0 172.8L116 256 Q116 266 124 263.7 L142.2 253 L139.7 245.5 L128 253.6 Q124.8 255.6 124.8 252 L124.8 177.8 L124.8 177.8C125.1 176.6 125.3 172.5 126.4 170.6C127.5 168.7 129.1 167.7 131.4 166.2C133.7 164.7 137.0 163.1 140.0 161.4C143.0 159.8 148.0 157.2 149.6 156.3Z"/>
<path class="m" d="M146.3 144.7C144.1 146.2 137.1 150.7 133.0 153.6C128.9 156.5 124.1 160.0 121.5 162.1C118.9 164.2 118.3 164.6 117.4 166.4C116.5 168.2 116.2 171.7 116.0 172.8L116 256 Q116 266 124 263.7 L142.2 253"/>
<path class="t" d="M149.6 156.3C148.0 157.2 143.0 159.8 140.0 161.4C137.0 163.1 133.7 164.7 131.4 166.2C129.1 167.7 127.5 168.7 126.4 170.6C125.3 172.5 125.1 176.6 124.8 177.8L124.8 252 Q124.8 255.6 128 253.6 L139.7 245.5"/>
<path class="w" d="M140.0 243.4 L143.4 240.7 L148.3 240.7 L152.6 243.4 L154.3 248.3 L151.3 251.3 L146.3 251.6 L142.7 249.6Z"/>
<path class="t" d="M143.4 240.7 L146.0 246.3 L142.7 249.6M146.0 246.3 L151.3 251.3M148.3 240.7 L150.6 245.7 L154.3 248.3"/>
<path class="wt" d="M153.3 243.4 L157.9 242.7 L159.9 245.0 L158.2 247.7 L154.6 248.0Z"/>
<path class="t" d="M158.2 244.3 L164.5 244.7M157.9 247.0 L163.7 246.7"/>
</g>
</g>
<g class="L">
<!-- LEFT FIGURE : elbow, ball valve, lubricator, gauge, regulator, junction block, filter -->
<g id="left-top2">
<path class="w" d="M204.3 67.3 L204.7 101.6 L207.3 105.7 L213.2 108.1 L221.5 106.9 L230.9 102.7 L234.0 96.8 L234.0 67.3Z"/>
<path d="M204.7 68.5 L205.0 101.6" stroke="#111" stroke-width="2" fill="none"/>
<path class="t" d="M207.9 72.0 L208.2 102.7M215.6 73.2 L215.8 105.1M219.1 73.2 L219.1 104.5M224.4 72.0 L224.4 101.6M226.4 71.4 L226.4 100.4"/>
<ellipse class="wt" cx="230.3" cy="76.7" rx="1.7" ry="2.1" transform="rotate(25 230.3 76.7)"/>
<ellipse class="wt" cx="229.6" cy="88" rx="1.7" ry="2.1" transform="rotate(25 229.6 88)"/>
<path class="w" d="M207.3 59.0C207.2 59.8 206.1 62.4 206.7 63.7C207.3 65.1 208.8 66.5 210.8 67.3C212.9 68.1 216.1 68.6 219.1 68.5C222.1 68.4 226.0 67.9 228.6 66.7C231.1 65.5 233.4 63.2 234.5 61.4C235.5 59.5 235.3 57.0 234.7 55.5C234.1 53.9 231.6 52.5 230.9 51.9Z"/>
<path class="t" d="M207.5 61.4C208.3 62.1 209.9 64.7 212.0 65.5C214.1 66.3 217.5 66.5 220.3 66.3C223.0 66.1 226.3 65.4 228.6 64.3C230.8 63.2 233.0 60.4 233.9 59.6"/>
<path class="w" d="M226.4 43.9 L231.4 48.0 L236.4 39.8 L236.4 48.0 L233.9 55.5 L226.4 59.6Z"/>
<path class="t" d="M231.4 48.0 L231.8 56.3M228.1 54.6 L231.4 53.8"/>
<path class="w" d="M212.0 27.2 L221.5 24.9 L228.1 27.3 L236.4 32.3 L236.4 39.8 L233.9 46.4 L231.4 48.0 L228.1 38.9 L219.0 36.9 L212.4 35.8Z"/>
<path class="t" d="M212.4 29.8 L214.9 28.6 L215.3 36.0M228.1 38.9 L236.4 32.3M216.7 29.8 L216.7 36.4M223.5 29.8 L224.0 37.4"/>
<path class="t" d="M216.7 30.6C217.2 30.4 218.7 29.1 219.8 29.0C221.0 28.9 222.9 30.0 223.5 30.2"/>
<ellipse class="w" cx="220.8" cy="38.4" rx="3.6" ry="1.9"/>
<ellipse class="m" cx="221" cy="41.6" rx="5" ry="2.2"/>
<path class="k" d="M219.8 42.9 L224.8 42.1 L225.0 43.2 L220.0 44.1Z"/>
<path class="w" d="M203.3 46.4 L209.1 38.9 L218.2 41.4 L225.6 44.7 L226.4 51.3 L226.4 58.8 L218.2 64.6 L210.7 62.9 L203.3 54.6Z"/>
<path class="t" d="M203.3 46.4 L217.3 50.1 L225.6 44.7M217.3 50.1 L218.2 64.6M214.4 51.3 L214.9 62.9M209.5 42.6 L212.8 48.0 L217.3 46.4"/>
<ellipse class="w" cx="208.4" cy="57.4" rx="4" ry="5.4" transform="rotate(-35 208.4 57.4)"/>
<path class="t" d="M205.3 53.4C205.7 54.2 206.4 56.5 207.4 58.0C208.4 59.4 210.9 61.4 211.5 62.1"/>
<path class="k" d="M209.5 58.9 L212.0 57.3 L212.5 58.4 L210.1 60.3Z"/>
<path class="w" d="M238.0 17.4 L248.0 8.3 L253.3 14.3 L244.6 23.4Z"/>
<path class="t" d="M248.0 8.3 L253.3 14.3"/>
<path class="w" d="M231.4 24.0 L238.0 17.4 L246.3 18.2 L248.0 24.0 L244.6 29.0 L237.2 33.1 L232.2 29.8Z"/>
<path class="t" d="M233.9 21.5 L240.1 29.0M236.4 19.5 L242.6 27.3M239.7 18.2 L245.6 25.5M242.6 17.8 L247.5 23.6M232.6 25.3 L236.4 32.3"/>
<path class="k" d="M239.7 18.7 L241.7 17.4 L246.3 22.8 L244.6 24.2Z"/>
<path class="k" d="M233.9 22.8 L235.5 21.5 L238.9 26.1 L237.4 27.3Z"/>
<path class="w" d="M179.9 78.8 L184.0 71.4 L190.6 64.8 L191.4 59.0 L199.7 54.8 L207.2 52.3 L212.5 57.3 L208.8 63.9 L203.0 70.5 L196.4 78.0 L188.1 84.6Z"/>
<path class="t" d="M184.0 71.4 L192.3 80.5M187.3 68.9 L195.2 78.8M190.6 64.8 L198.9 74.7M184.8 76.3 L189.0 73.0M188.1 79.6 L192.4 76.3"/>
<path class="k" d="M187.3 71.4 L189.0 69.7 L193.1 74.7 L191.6 76.3Z"/>
<path class="m" d="M200.5 66.4 L206.7 61.9M193.5 67.6 L196.0 68.9M197.6 60.2 L198.9 64.8"/>
<path class="t" d="M191.4 59.0 L194.8 63.1 L198.9 64.8M194.8 63.1 L193.1 67.2"/>
<ellipse class="w" cx="197.2" cy="53.4" rx="3" ry="1.8"/>
<path class="t" d="M194.3 54.0C194.8 54.1 196.3 54.8 197.2 54.8C198.2 54.8 199.6 54.0 200.1 53.8"/>
<path class="w" d="M171.6 38.2 Q168.4 39.4 169 42.4 Q169.6 44.4 171.6 45.4 L189.4 56 Q192.6 57.4 194 55 Q195 52.6 192.6 50.8 L175 39 Q173.2 37.8 171.6 38.2 Z"/>
<path class="t" d="M171.6 42.4 L187.3 50.5M188.5 48.9 L186.9 51.7M190.2 50.3 L189.0 52.8"/>
<path class="w" d="M171.2 84.6C171.5 82.8 172.6 80.8 174.1 79.6C175.5 78.5 177.9 77.4 179.9 77.6C181.8 77.7 184.3 78.9 185.6 80.5C187.0 82.1 188.0 85.0 187.7 87.1C187.4 89.2 185.9 91.6 184.0 92.9C182.1 94.1 178.5 95.0 176.5 94.5C174.5 94.1 172.9 92.1 172.0 90.4C171.1 88.7 170.8 86.4 171.2 84.6Z"/>
<path class="t" d="M179.9 86.3 L173.7 82.1M179.9 86.3 L186.1 83.4M179.9 86.3 L180.7 93.7"/>
<path class="t" d="M173.2 83.0C173.8 82.6 175.3 81.1 176.5 80.6C177.8 80.2 179.3 79.8 180.7 80.1C182.1 80.3 184.1 81.8 184.8 82.1"/>
<path class="w" d="M174.5 94.5 L184.8 94.1 L184.8 97.4 L174.5 97.4Z"/>
<path class="t" d="M174.9 96.0 L184.7 95.9"/>
<path class="w" d="M203.1 114.8 L233.7 95.8 L239.5 95.0 L242.8 99.1 L242.8 114.8 L235.4 116.5 L234.5 105.7 L208.9 122.3Z"/>
<path class="w" d="M245.3 117.3 L251.1 117.3 L251.4 125.6 L244.8 125.6Z"/>
<ellipse class="w" cx="250.2" cy="105.8" rx="10.6" ry="12.3" transform="rotate(12 250.2 105.8)"/>
<ellipse class="m" cx="252.4" cy="106.4" rx="8" ry="10.2" transform="rotate(12 252.4 106.4)"/>
<ellipse class="t" cx="253.6" cy="106.6" rx="5.4" ry="7.8" transform="rotate(12 253.6 106.6)"/>
<path class="t" d="M252.4 102 L254.4 110 M255.4 102.6 L253 109"/>
<path class="w" d="M242.8 123.9 L252.7 123.1 L254.4 127.2 L244.5 128.9Z"/>
<ellipse class="w" cx="222.6" cy="129.8" rx="8.8" ry="15" transform="rotate(-28 222.6 129.8)"/>
<path class="w" d="M221.3 116.5 L229.6 114.8 L239.5 117.3 L252.7 125.6 L257.7 133.0 L259.4 144.6 L252.7 154.5 L242.8 156.2 L234.5 152.9 L224.6 144.6 L219.6 133.0Z"/>
<path class="t" d="M219.6 118.1C219.0 119.8 215.8 124.5 215.5 128.1C215.2 131.6 216.5 136.6 218.0 139.6C219.5 142.7 223.5 145.2 224.6 146.3"/>
<path class="m" d="M228.7 122.3C228.1 123.8 224.9 128.2 224.6 131.4C224.3 134.5 225.7 138.7 227.1 141.3C228.5 143.9 231.9 146.1 232.9 147.1"/>
<path class="w" d="M221.3 135.0 L227.1 131.4 L235.4 137.2 L239.5 143.0 L233.7 147.9 L224.6 143.0Z"/>
<path class="k" d="M235.4 128.9 L238.7 125.6 L239.5 126.7 L236.5 130.0Z"/>
<path class="t" d="M226.3 134.7 L233.7 139.6"/>
<ellipse class="w" cx="245.4" cy="141" rx="9.6" ry="11.4" transform="rotate(-30 245.4 141)"/>
<ellipse class="t" cx="246.6" cy="141.6" rx="7.6" ry="9.4" transform="rotate(-30 246.6 141.6)"/>
<path class="w" d="M247.8 139.6 L254.4 138.0 L269.3 147.1 L270.9 153.7 L266.8 159.5 L260.2 157.0 L246.1 148.7Z"/>
<path class="k" d="M250.3 141.3 L258.5 145.4 L257.7 147.1 L249.4 143.0Z"/>
<path class="k" d="M247.8 148.7 L254.4 152.1 L253.6 153.7 L246.9 150.4Z"/>
<path class="t" d="M260.2 146.3 L259.4 156.2M264.3 149.6 L265.2 155.4"/>
<ellipse class="wt" cx="267.6" cy="154.6" rx="3" ry="4" transform="rotate(-30 267.6 154.6)"/>
<path class="w" d="M275.2 148.2 L278.4 149.9 L271.3 166.5 L267.6 165.3Z"/>
<path class="w" d="M266.8 155.4 L273.4 157.0 L272.9 159.5 L266.3 157.8Z"/>
<path class="w" d="M197.3 147.9 L211.4 140.5 L224.6 147.1 L224.9 167.8 L210.5 177.7 L197.3 169.4Z"/>
<path class="t" d="M197.3 147.9 L210.5 155.4 L224.6 147.1M210.5 155.4 L210.5 177.7"/>
<ellipse class="w" cx="199.6" cy="162" rx="3.6" ry="3.2"/>
<ellipse class="w" cx="197.4" cy="162.6" rx="2" ry="2.4"/>
<ellipse class="wt" cx="203" cy="171.4" rx="4" ry="2.6" transform="rotate(20 203 171.4)"/>
<path class="t" d="M201 170.6 L205 172.4 M202.6 169.4 L203.6 173.4 M199.6 166.6 L207 166 M205.6 160 L207 164"/>
<ellipse class="w" cx="217.6" cy="161" rx="3" ry="4"/>
<ellipse class="w" cx="225.6" cy="143.6" rx="3" ry="4.2"/>
<ellipse class="w" cx="195.6" cy="179" rx="3.4" ry="3.4"/>
<ellipse class="t" cx="195.6" cy="180.4" rx="3.2" ry="1.8"/>
<path class="w" d="M219.6 159.5 L226.3 155.4 L239.5 156.2 L247.8 162.8 L255.2 167.8 L255.7 181.0 L244.5 188.0 L236.2 184.3 L223.0 177.7 L219.3 169.4Z"/>
<path class="t" d="M226.3 155.4 L227.1 166.1 L237.8 172.7 L238.7 185.2M237.8 172.7 L255.2 167.8M227.1 166.1 L219.6 169.4"/>
<ellipse class="wt" cx="238.4" cy="164.4" rx="4.4" ry="2.8" transform="rotate(15 238.4 164.4)"/>
<ellipse class="wt" cx="248.6" cy="179" rx="3.2" ry="3.8"/>
<ellipse class="t" cx="248.6" cy="179" rx="1.8" ry="2.4"/>
<path class="t" d="M232.1 167.8 L232.6 172.7 L236.2 169.4M242.8 169.4 L246.1 167.8"/>
</g>
</g>
<!-- RIGHT FIGURE : air motor, regulator, lubricator -->
<g id="right-upper">
<!-- left U tube -->
<path d="M581 428.3 H560 A21.7 21.7 0 0 0 538.3 450 V519 A23 23 0 0 0 561.3 542 H568" fill="none" stroke="#111" stroke-width="9.6"/>
<path d="M582 428.3 H560 A21.7 21.7 0 0 0 538.3 450 V519 A23 23 0 0 0 561.3 542 H569" fill="none" stroke="#fff" stroke-width="6.9"/>
<!-- pump body -->
<path class="w" d="M590.3 531.5 V548 Q590.3 551.5 586.5 552.5 Q580.8 554.5 580.8 560 V591 H681 V561 Q681 555 675.5 552.8 Q673.1 551.8 673.1 548 V531.5 Z"/>
<!-- air motor frame -->
<rect class="wf" x="581" y="466" width="98" height="56"/>
<path class="m" d="M581.6 466.5 V521.5 M585 466.5 V521.5 M598 466.5 V521.5 M601.4 466.5 V521.5 M655.6 466.5 V521.5 M659 466.5 V521.5 M675 466.5 V521.5 M678.8 466.5 V521.5"/>
<path d="M673.6 468 V521" stroke="#111" stroke-width="2" fill="none"/>
<!-- cap behind bowl -->
<path class="w" d="M605.4 457 V449.5 Q605.4 447.6 607.4 447.6 H650.7 Q652.7 447.6 652.7 449.5 V457 Z"/>
<!-- nuts on top plate -->
<path class="w" d="M579.8 457 V454.5 A3.3 3.3 0 0 1 586.4 454.5 V457 Z"/>
<path class="w" d="M596.6 457 V454.5 A3.3 3.3 0 0 1 603.2 454.5 V457 Z"/>
<path class="w" d="M654.2 457 V454.5 A3.3 3.3 0 0 1 660.8 454.5 V457 Z"/>
<path class="w" d="M673 457 V454.5 A3.3 3.3 0 0 1 679.6 454.5 V457 Z"/>
<!-- plates -->
<rect class="w" x="578.8" y="456.8" width="103.4" height="9.8" rx="1.2"/>
<rect class="w" x="579" y="521.6" width="103.4" height="9.8" rx="1.2"/>
<!-- nuts below bottom plate -->
<path class="w" d="M597 531.4 A3.4 3.6 0 0 0 603.8 531.4 Z"/>
<path class="w" d="M625.6 531.4 A3.4 3.6 0 0 0 632.4 531.4 Z"/>
<path class="w" d="M654 531.4 A3.4 3.6 0 0 0 660.8 531.4 Z"/>
<path class="w" d="M674.2 531.4 A3.4 3.6 0 0 0 681 531.4 Z"/>
<path class="t" d="M597.6 533.6 H603.2 M626.2 533.6 H631.8 M654.6 533.6 H660.2 M674.8 533.6 H680.4"/>
<!-- bottom-left tube fitting -->
<rect class="w" x="566" y="533.4" width="10.4" height="17.6" rx="2"/>
<path class="t" d="M566.4 538 H576 M566.4 546.4 H576"/>
<rect class="w" x="577.2" y="535.4" width="5.6" height="14.6" rx="1.4"/>
<path class="t" d="M577.6 539 H582.6 M577.6 546 H582.6"/>
<rect class="w" x="583.4" y="536" width="6.8" height="13" rx="1"/>
<!-- top-left tube fitting -->
<rect class="w" x="579.8" y="421" width="11.6" height="15.6" rx="2"/>
<path class="t" d="M580.2 425 H591 M580.2 432.4 H591"/>
<rect class="w" x="593" y="422" width="9.6" height="14" rx="2.2"/>
<path class="t" d="M593.4 425.6 H602.2 M593.4 432.4 H602.2"/>
<rect class="k" x="602.6" y="423.4" width="2.2" height="11.6"/>
<!-- valve body -->
<path class="w" d="M620.6 392.6 Q620.6 391.2 622 391.2 H635.6 Q637 391.2 637 392.6 V401 Q637 404 640 404.4 Q643.6 405 643.6 408.6 V437.8 H646 V441.2 H613.4 V437.6 Q604.2 437.6 604.2 433.6 V422.6 Q604.2 418.8 608 418.6 Q613.4 418 613.4 413.6 V408.6 Q613.4 405 617 404.4 Q620.6 404 620.6 401 Z"/>
<circle class="w" cx="628.2" cy="413.4" r="6.2"/>
<path class="m" d="M622.2 410.6 H619.4 Q618.4 410.6 618.4 411.6 V415.2 Q618.4 416.2 619.4 416.2 H622.2 M634.2 410.6 H637 Q638 410.6 638 411.6 V415.2 Q638 416.2 637 416.2 H634.2"/>
<path class="t" d="M620 411 V416 M636.4 411 V416"/>
<rect class="w" x="621" y="421.4" width="16.8" height="15.8"/>
<circle class="m" cx="628.4" cy="429.4" r="5.6"/>
<circle class="m" cx="628.4" cy="429.4" r="2.9"/>
<path class="t" d="M637.8 424 Q641.6 426 641.6 431 V437.4"/>
<!-- stem and handle -->
<path class="w" d="M623.4 383.2 H633 L634.6 391.2 H622 Z"/>
<path class="k" d="M624.6 386.4 H632.4 V389 H624.6 Z"/>
<rect class="w" x="622" y="371.2" width="12.4" height="4.2" rx="1"/>
<path class="t" d="M625.4 371.6 V375 M631 371.6 V375"/>
<rect class="w" x="613.8" y="374.8" width="29.4" height="8.6" rx="2.6"/>
<!-- second lever -->
<rect class="w" x="645.4" y="371.4" width="26.8" height="4.6" rx="1.4"/>
<path class="w" d="M643 375.8 H666 Q669.8 375.8 669.8 379 Q669.8 382.4 666 382.4 H643 Z"/>
<path class="m" d="M655 382.4 Q655 385.8 659 385.8 H670"/>
<circle class="w" cx="662.4" cy="378.4" r="2.5"/>
<path class="k" d="M660.6 377 L664.2 379.8 L663.4 380.6 L660 377.8 Z"/>
<path class="t" d="M664.6 375.6 L668 379"/>
<rect class="w" x="673.2" y="373.4" width="3.4" height="8.8" rx="1"/>
<rect class="w" x="677" y="374.4" width="3.4" height="7" rx="1"/>
<!-- regulator -->
<path class="w" d="M647 421 Q647 418 650 418 H681 Q684.2 418 684.2 421 V436.4 Q684.2 439.4 681 439.4 H650 Q647 439.4 647 436.4 Z"/>
<circle class="w" cx="664.8" cy="429.3" r="13.2"/>
<circle class="t" cx="664.8" cy="429.3" r="8.6"/>
<circle class="m" cx="664.8" cy="429.3" r="3.4"/>
<path d="M657.2 420.2 L672.6 438.8" stroke="#111" stroke-width="2.2" fill="none" stroke-linecap="round"/>
<path class="t" d="M659 419 L674.4 437.4"/>
<circle class="wt" cx="664.8" cy="429.3" r="2.2"/>
<!-- gauge -->
<rect class="w" x="672.4" y="405" width="4.2" height="11.2"/>
<rect class="w" x="671.4" y="406.4" width="6.2" height="3.4" rx="1"/>
<circle class="w" cx="673.9" cy="394.8" r="11.2"/>
<path d="M670.2 398.8 L677.8 391" stroke="#111" stroke-width="2.6" fill="none" stroke-linecap="round"/>
<circle class="k" cx="670.2" cy="398.9" r="1.6"/>
<circle class="k" cx="677.6" cy="391.2" r="1.6"/>
<!-- filter bowl -->
<path class="w" d="M615.8 451.4 H645.2 L643.4 493.6 Q643.2 497.8 639 497.8 H622 Q617.8 497.8 617.6 493.6 Z"/>
<rect class="w" x="613.4" y="441" width="32.8" height="10.6" rx="1.6"/>
<path class="t" d="M614.6 444 H645"/>
<path class="m" d="M621.6 457.4 Q623.4 455.4 625 457.4 L625.4 489.6 Q623.8 492 622.2 489.6 Z"/>
<path class="m" d="M636 457.4 Q637.8 455.4 639.4 457.4 L639 489.6 Q637.4 492 635.8 489.6 Z"/>
<path class="w" d="M625.4 500 H633 V505.6 Q633 507 631.6 507 H626.8 Q625.4 507 625.4 505.6 Z"/>
<path class="t" d="M626.6 497.8 V500 M631.8 497.8 V500"/>
<path class="m" d="M627.8 507 V521.4 M630.6 507 V521.4"/>
<!-- lubricator / filter -->
<path class="w" d="M688 371.6 V366 H691.4 V371.6 M697.4 371.6 V363 Q697.4 361 699.4 361 H704.6 Q706.6 361 706.6 363 V371.6 M709 371.6 V367 H711.6 V371.6"/>
<path class="w" d="M684 386.5 H716.4 V395.6 Q716.4 397.2 714.8 397.2 L713.9 434.5 V441 Q713.9 444.4 710.5 444.4 H691.6 Q688.2 444.4 688.2 441 V434.5 L686.4 397.2 H685.6 Q684 397.2 684 395.6 Z"/>
<path class="m" d="M686.4 397.2 H714.8"/>
<rect class="w" x="680.8" y="371.6" width="37.4" height="15" rx="1.2"/>
<path class="m" d="M689 372 V386 M699.8 372 V386 M709.8 372 V386"/>
<path class="t" d="M681 374.4 H689 M709.8 374.4 H718"/>
<rect class="w" x="703" y="398.8" width="6.8" height="39" rx="3.4"/>
<ellipse class="k" cx="706.4" cy="405.8" rx="2.2" ry="1.6"/>
<ellipse class="k" cx="706.4" cy="417.9" rx="2.2" ry="1.6"/>
<path d="M694 402 V436" stroke="#111" stroke-width="1.8" fill="none"/>
<path class="w" d="M697.3 444.4 H704 V448 H697.3 Z"/>
<path class="w" d="M697.8 448 H703.6 L704 452.6 L702.6 455.2 H698.8 L697.4 452.6 Z"/>
<path class="t" d="M698 450.6 H703.6 M698 452.8 H703.6"/>
<!-- right fittings -->
<rect class="w" x="718.8" y="373.4" width="7.6" height="11.4" rx="2"/>
<path class="t" d="M719.2 376.4 H726 M719.2 382 H726"/>
<rect class="k" x="726.6" y="375.4" width="1.6" height="7.6"/>
<rect class="w" x="728.4" y="372.4" width="8.8" height="13.2" rx="2"/>
<path class="t" d="M728.8 376 H736.8 M728.8 382 H736.8"/>
<!-- right U tube -->
<path d="M737 379 H763.4 A25.6 25.6 0 0 1 763.4 430.2 H704" fill="none" stroke="#111" stroke-width="8.6"/>
<path d="M737 379 H763.4 A25.6 25.6 0 0 1 763.4 430.2 H704" fill="none" stroke="#fff" stroke-width="5.9"/>
<path class="m" d="M737.4 375.2 V382.8 M747 375 V383"/>
<rect class="w" x="687.4" y="424.6" width="17.4" height="10.8" rx="1"/>
<path class="t" d="M692.4 425 V435"/>
<rect class="k" x="684.4" y="425.4" width="3" height="8.8"/>
</g>

<!-- RIGHT FIGURE : nameplate and valves -->
<g id="right-valves">
<rect x="607.6" y="541.8" width="46" height="41.8" rx="1" fill="#141414" stroke="#111" stroke-width="0.8"/>
<rect x="629.2" y="544.4" width="17.8" height="2.6" fill="#fff"/>
<rect x="629.2" y="548.2" width="17.8" height="2.6" fill="#fff"/>
<rect x="636.9" y="553.1" width="10" height="2.6" fill="#fff"/>
<rect x="636.9" y="557.1" width="10" height="2.5" fill="#fff"/>
<path d="M614.4 545.4 h1.6 M614.4 549.3 h1.8 M614 554.2 h2.4 M620.4 554.2 h2" stroke="#ddd" stroke-width="1" fill="none"/>
<text x="610.6" y="569.2" style="font-weight:bold;font-style:italic;fill:#fff;stroke:none;letter-spacing:-0.1px"><tspan style="font-size:10.6px">S</tspan><tspan style="font-size:7.6px">PEEFLO</tspan></text>
<text x="609.3" y="581.2" textLength="15.4" lengthAdjust="spacingAndGlyphs" style="font-size:7.8px;font-weight:bold;fill:#fff;stroke:none;">CO12</text>
<!-- ball valve on centre rod -->
<rect class="w" x="627.4" y="580" width="7.4" height="12"/>
<path class="w" d="M625.2 567.4 Q626 566 627.6 566 H636 Q638.4 566 638.4 568 V579 Q638.4 580.6 636.4 580.6 H627.6 Q626 580.6 625.2 579.2 Z"/>
<circle class="w" cx="630.8" cy="572.4" r="5.7"/>
<circle class="t" cx="630.8" cy="572.4" r="3.9"/>
<rect class="w" x="638.4" y="567" width="8" height="12.6"/>
<rect class="w" x="646.2" y="566.4" width="8" height="13.4" rx="1.6"/>
<path class="t" d="M649 566.8 V579.4 M651.6 566.8 V579.4"/>
<rect class="w" x="655" y="565" width="6.6" height="15.4" rx="1.6"/>
<path class="t" d="M655.4 569 H661.2 M655.4 576.4 H661.2"/>
<!-- needle valve -->
<rect class="w" x="661.6" y="562.4" width="24.4" height="10.4" rx="3.4"/>
<rect class="w" x="661.6" y="572.6" width="24.4" height="10.6" rx="3.4"/>
<path class="w" d="M686 565.8 H694.6 L698.4 568.4 V576.8 L694.6 579.6 H686 Z"/>
<path class="t" d="M696.4 567.4 V578"/>
<rect class="w" x="699.6" y="568.8" width="8.4" height="7.4"/>
<rect class="w" x="706.4" y="569.4" width="4.4" height="6.4" rx="1"/>
<path class="t" d="M708.6 569.8 V575.6"/>
<rect x="710.9" y="556.8" width="7.7" height="32.8" rx="2.6" fill="#141414" stroke="#111" stroke-width="0.6"/>
<path d="M714.6 564.4 v1.2 M714.2 570.6 l1 1 M714.2 575 l1 -1 M714.6 581 v1.2" stroke="#ccc" stroke-width="0.8" fill="none"/>
</g>

<!-- RIGHT FIGURE : mounting bar, rods, foot -->
<g id="right-lower">
<!-- mounting bar -->
<path class="w" d="M493.5 591 H769.5 Q774 591 774 595.5 V632.8 H489.7 V595 Q489.7 591 493.5 591 Z"/>
<path class="t" d="M491.5 594 H772"/>
<path class="t" d="M771.3 596 V631"/>
<path class="t" d="M491.4 597 V631"/>
<!-- long tie rods left -->
<rect class="wf" x="584" y="592" width="15.6" height="222"/>
<rect class="wf" x="662" y="592" width="16.6" height="222"/>
<path class="m" d="M584.2 594 L584.8 814"/>
<path class="t" d="M587.8 594 L588.6 814"/>
<path class="t" d="M595.8 594 L596.9 814"/>
<path class="m" d="M599.2 594 L600.5 814"/>
<path class="m" d="M661.8 594 L662.8 814"/>
<path class="t" d="M665.2 594 L666.4 814"/>
<path class="t" d="M673.4 594 L674.8 814"/>
<path class="m" d="M677 594 L679.2 814"/>
<!-- thin side rods with nuts -->
<path class="t" d="M625.2 594 V602 M637.6 594 V602"/>
<rect class="wt" x="621.6" y="602.3" width="4.6" height="6.4"/>
<rect class="wt" x="636.4" y="602.3" width="4.6" height="6.4"/>
<path class="t" d="M625.4 608.7 V618.6 M637.4 608.7 V618.6"/>
<rect class="wt" x="624.4" y="618.6" width="3" height="4.2"/>
<rect class="wt" x="635.4" y="618.6" width="3" height="4.2"/>
<path class="t" d="M624.6 623 L627.4 745 L629 752 M626.8 623 L629 740"/>
<path class="t" d="M638.6 623 L636.6 745 L636 752 M636.4 623 L635.2 740"/>
<!-- centre rod -->
<rect class="wf" x="627.6" y="586" width="7.6" height="220"/>
<path class="m" d="M627.4 583 L628.8 806 M635.3 583 L636.6 806"/>
<!-- lower nuts on side rods -->
<rect class="wt" x="622" y="759" width="6.6" height="12" rx="1"/>
<rect class="wt" x="637" y="759" width="6.2" height="12" rx="1"/>
<rect class="wt" x="622.4" y="772" width="5.6" height="5.6"/>
<rect class="wt" x="637.4" y="772" width="5.6" height="5.6"/>
<path class="t" d="M621.6 796 V782 Q621.6 780.5 623 780.5 H628 M644 796 V782 Q644 780.5 642.6 780.5 H637.4"/>
<!-- hub -->
<path class="w" d="M605.4 814.7 L612.2 797.5 Q613 795.8 615 795.8 H648 Q650 795.8 650.8 797.5 L659.6 814.7 L660.2 827 L652.7 837.6 Q652 838.6 650.5 838.6 H614.5 Q613 838.6 612.2 837.6 L605.4 827 Z"/>
<!-- clamp plate -->
<path class="w" d="M585 814.7 H612 Q617 814.7 620.5 811 Q625.5 806.3 631 806.3 H635 Q640.5 806.3 645 811 Q648.5 814.7 653.5 814.7 H681 Q683 814.7 683 816.7 V824.3 Q683 826.2 681 826.2 H653.5 Q648.5 826.2 645 829.6 Q640.5 834 635 834 H631 Q625.5 834 620.5 829.6 Q617 826.2 612 826.2 H585 Q583.1 826.2 583.1 824.3 V816.7 Q583.1 814.7 585 814.7 Z"/>
<path class="w" d="M626.6 807.4 V817 Q626.6 825.8 633 825.8 Q639.6 825.8 639.4 817 V807.4 Z"/>
<path class="t" d="M627 811.6 H639.2"/>
<path class="m" d="M626.6 813.4 L624 820.4 L628 827.6 H638 L642 820.4 L639.4 813.4"/>
<rect class="wf" x="629.4" y="794" width="6.8" height="13"/>
<path class="m" d="M628.8 794 V807.4 M636.7 794 V807.4"/>
<!-- bolts under plate -->
<path class="w" d="M584.6 826.2 H604.4 V832.6 Q604.4 833.6 603.4 833.6 H585.6 Q584.6 833.6 584.6 832.6 Z"/>
<path class="t" d="M590 826.4 V833.4 M599.4 826.4 V833.4"/>
<path class="w" d="M589.6 833.6 H599.8 V835.6 Q594.7 838 589.6 835.6 Z"/>
<path class="w" d="M661.6 826.2 H682 V832.6 Q682 833.6 681 833.6 H662.6 Q661.6 833.6 661.6 832.6 Z"/>
<path class="t" d="M666.6 826.4 V833.4 M676.4 826.4 V833.4"/>
<path class="w" d="M666 833.6 H676.6 V836 Q671.3 838.6 666 836 Z"/>
<!-- lower tube -->
<path class="w" d="M615.6 838.6 L616.8 955 Q616.8 957.6 619.4 957.6 H648.6 Q651.2 957.6 651.2 955 L650.4 838.6 Z"/>
<path class="t" d="M616.8 931.4 H651"/>
<path d="M618.6 957.4 H649.4" stroke="#111" stroke-width="2" fill="none" stroke-linecap="round"/>
<circle class="m" cx="633.3" cy="945" r="8.6"/>
<circle class="t" cx="633.3" cy="945" r="6.4"/>
</g>

<g id="right-band">
<rect x="616.4" y="870.3" width="34.6" height="32.3" fill="#171717" stroke="#111" stroke-width="0.8"/>
<path d="M631.8 888.0l1.0 1.3M623.8 894.9l1.1 1.2M620.9 880.8l-1.0 1.3M637.4 889.0l1.5 1.1M636.8 876.7l-1.3 0.6M619.1 897.0l-1.3 0.8M636.1 877.8l-1.1 0.9M638.3 885.2l0.9 1.0M646.5 874.6l0.8 0.7M626.8 874.3l-0.9 1.3M629.8 899.2l-0.7 1.3M619.6 882.9l0.9 1.0M624.1 891.3l0.6 0.8M647.5 893.6l-0.6 1.1M618.3 885.4l0.7 1.0M631.7 877.7l-0.9 0.8M630.1 900.1l-0.8 1.4M642.6 880.8l-0.7 0.9M644.1 890.3l-0.5 0.6M631.5 872.6l1.3 0.8M620.3 878.2l-0.5 0.8M637.0 875.9l1.3 0.6M629.8 889.9l1.4 1.2M625.6 877.6l-1.2 0.8M632.8 874.5l-0.6 0.5M647.5 879.0l0.8 1.2M636.3 880.5l-1.4 1.4M621.9 885.8l-0.8 1.3M624.2 872.8l0.9 0.7M619.4 880.2l-0.6 0.6M631.8 881.6l-1.1 1.3M632.5 882.3l1.5 0.5M637.5 885.9l0.8 1.4M620.3 887.6l-1.4 1.2M639.5 894.6l0.9 1.1M645.6 896.8l1.4 0.5M633.3 872.7l0.9 0.5M620.2 874.8l-1.5 1.3M640.3 883.2l0.9 1.3M620.6 893.4l-0.8 0.6M618.7 899.2l-1.0 1.1M646.2 879.5l-0.9 0.6M636.7 886.9l1.2 0.9M645.3 881.5l0.7 0.9M642.7 898.0l-0.9 1.0M627.7 876.1l0.9 1.3M619.2 874.1l1.3 0.6M632.4 898.3l0.9 1.0M638.6 892.4l0.8 1.2M626.5 889.4l1.1 0.8M642.2 872.8l-0.9 0.7M641.5 879.8l-1.3 1.4M621.5 875.4l1.5 1.1M624.1 885.7l-1.2 1.2M634.4 873.3l-0.8 0.8M639.3 886.9l-0.9 1.2M645.7 874.8l0.6 0.9M637.1 897.9l1.1 1.1M633.4 895.3l1.0 1.1M624.3 892.6l-0.7 1.3M648.0 899.8l0.8 1.1M618.5 886.5l-0.9 1.0M641.5 886.0l-0.7 1.3M631.1 873.3l1.2 1.3M632.4 900.4l1.4 0.9M647.0 874.7l-0.9 1.0M643.4 888.1l-1.0 1.3M635.1 881.1l1.5 1.3M636.6 880.9l-1.5 1.0M635.5 877.9l-1.0 1.0M618.8 899.5l1.0 1.4M621.7 874.9l-0.6 1.0M630.7 899.2l0.8 0.9M621.9 884.5l1.0 0.6M630.8 873.1l0.6 1.2M618.7 877.8l-0.5 0.8M640.1 879.2l0.6 1.2M621.8 886.6l1.2 1.1M644.9 873.0l1.3 1.1M634.5 896.6l-1.0 1.3M636.7 896.4l-1.4 1.1M628.6 877.4l1.4 0.7M641.8 877.8l-0.6 0.7M640.2 879.6l-0.9 1.3M634.6 892.1l-0.9 1.1" fill="none" stroke="#bbb" stroke-width="0.7" stroke-linecap="round"/>
</g>
<!-- labels and leader lines -->
<g id="leaders">
<path class="ld" d="M17.7 118.4 H127.4 L148 138.4"/>
<path class="ld" d="M294.4 60.5 H346.6"/>
<path class="ld" d="M17.7 276 H112"/>
<path class="ld" d="M228 266.5 H333.7"/>
<path class="ld" d="M250 324.5 H333.7"/>
<path class="ld" d="M277 414.2 H333.7"/>
<path class="ld" d="M17.7 500.45 H90.6 L109 519.4"/>
<path class="ld" d="M454.1 420 H548 L580.6 453"/>
<path class="ld" d="M789.2 404.4 H828.2"/>
<path class="ld" d="M454.1 558 H492.6 L526.6 591"/>
<path class="ld" d="M828.2 535.5 H723.4 L693 565.4"/>
</g>
<g id="labels">
<text x="7.06" y="122.80">1</text>
<text x="350.60" y="65.50">2</text>
<text x="7.15" y="279.50">4</text>
<text x="337.50" y="271.90">5</text>
<text x="337.50" y="329.80">6</text>
<text x="337.50" y="419.10">8</text>
<text x="6.65" y="505.10">9</text>
<text x="443.96" y="423.80">1</text>
<text x="832.70" y="408.80">2</text>
<text x="443.50" y="562.20">3</text>
<text x="832.70" y="540.00">6</text>
</g>
</svg>
</body>
</html>
